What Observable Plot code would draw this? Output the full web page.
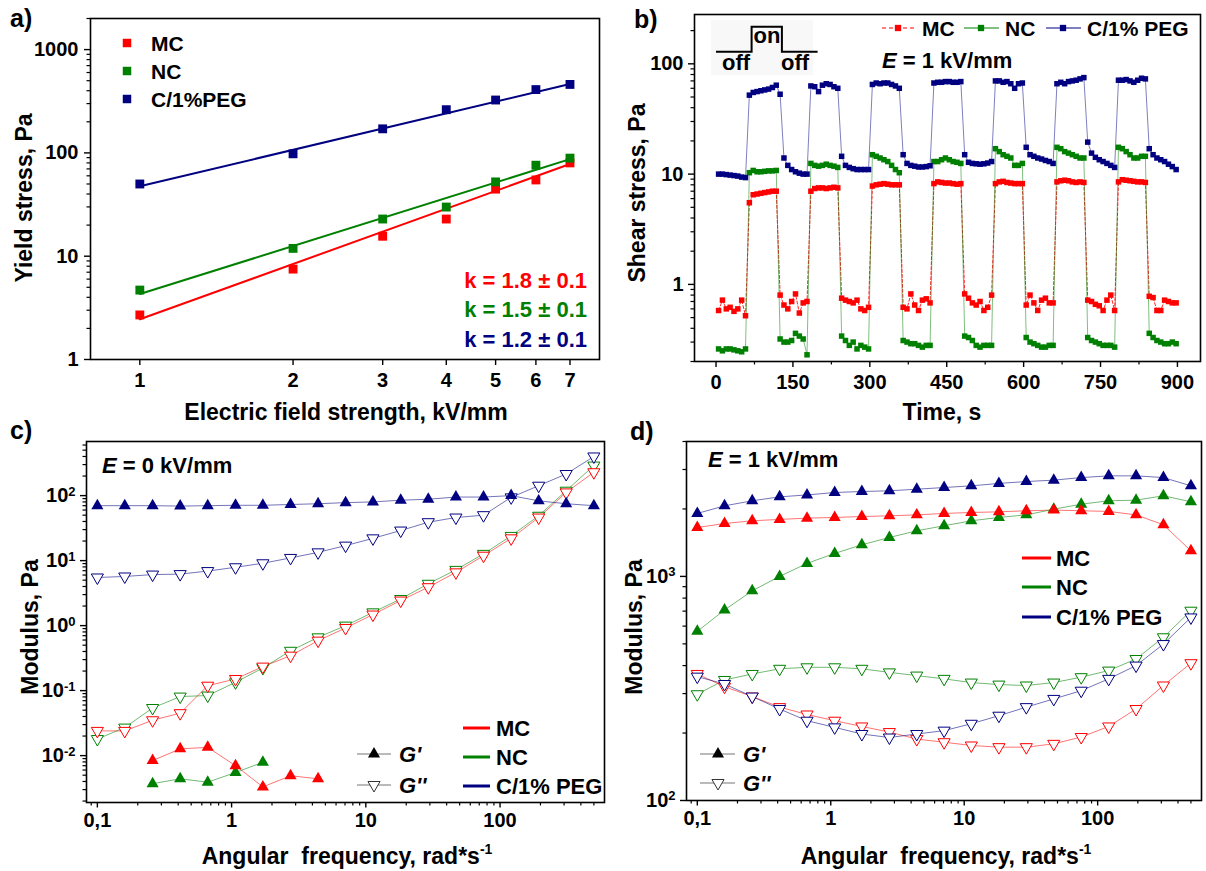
<!DOCTYPE html>
<html><head><meta charset="utf-8">
<script src="https://cdn.jsdelivr.net/npm/d3@7"></script>
<script src="https://cdn.jsdelivr.net/npm/@observablehq/plot@0.6"></script>
<style>
body{margin:0;background:#fff;}
#fig{position:relative;width:1206px;height:871px;background:#fff;overflow:hidden;}
</style></head><body><div id="fig"></div>
<script>
// ---------------- DATA ----------------
// a) yield stress vs field
const fieldKV = [1,2,3,4,5,6,7];
const yieldMC  = [2.7, 7.5, 15.6, 22.9, 44.6, 54.7, 80];
const yieldNC  = [4.7, 11.9, 22.9, 29.9, 52.4, 76, 89];
const yieldPEG = [50, 98, 171, 262, 325, 410, 460];
const fitKV  = [1, 7];
const fitMC  = [2.45, 78];
const fitNC  = [4.3, 87];
const fitPEG = [47.5, 465];
const slopeLabels = ["k = 1.8 \u00b1 0.1", "k = 1.5 \u00b1 0.1", "k = 1.2 \u00b1 0.1"];
const seriesA = ["MC", "NC", "C/1%PEG"];
const seriesB = ["MC", "NC", "C/1% PEG"];

// b) shear stress vs time (on/off cycles, 60 s each)
const timeS = d3.range(5, 900, 7.5);
const stressPEG = [
 10,10,9.9,9.8,9.7,9.6,9.4,9.3,
 52,55,56,57,58,59,61,64,
 53,14,12,11,10.5,10.2,10,10,
 63,62,56,64,66,65,62,60,
 14.5,12,11.5,11.2,11,11,11,11,
 65,67,66,67,67,65,63,60,
 15,12.5,12,11.8,11.6,11.6,11.7,11.9,
 67,68,68,69,69,68,68,69,
 15,12.8,12.5,12.4,12.3,12.4,12.6,13,
 70,70,68,69,66,60,66,67,
 17.5,15,14.5,14,13.7,13.3,13,12.5,
 66,68,66,69,70,71,73,75,
 19.5,15.5,14.2,13.5,13,12.5,12,11.5,
 71,71,72,70,68,71,74,73,
 17,15,14,13.5,13,12.3,11.7,11];
const stressNC = [
 0.26,0.25,0.26,0.26,0.255,0.25,0.245,0.26,
 10.3,10.8,10.5,10.5,10.6,10.7,10.7,10.8,
 0.32,0.3,0.3,0.31,0.36,0.34,0.32,0.23,
 12.5,12,11.8,12,12.3,12,11.8,11.5,
 0.34,0.31,0.28,0.3,0.26,0.28,0.27,0.26,
 15,14.5,14,13.5,13,12,11,10.3,
 0.31,0.3,0.29,0.29,0.28,0.27,0.28,0.28,
 13,13,13.5,14,13.5,13,12.8,12.5,
 0.34,0.33,0.31,0.28,0.27,0.28,0.28,0.28,
 17,16,15,14.5,14,12,12,12.5,
 0.33,0.3,0.29,0.28,0.27,0.27,0.28,0.28,
 17.5,17,16,15.5,15,14.5,14,14,
 0.33,0.31,0.3,0.29,0.28,0.28,0.28,0.27,
 17.5,17,16,15,14,14,14.5,14.5,
 0.36,0.33,0.31,0.3,0.29,0.29,0.3,0.29];
const stressMC = [
 0.58,0.72,0.6,0.62,0.57,0.6,0.72,0.52,
 5.5,6.5,6.6,6.7,6.8,6.9,7,7,
 0.8,0.65,0.6,0.7,0.82,0.55,0.68,0.7,
 7,7.4,7.5,7.5,7.4,7.5,7.6,7.5,
 0.75,0.72,0.7,0.68,0.72,0.6,0.58,0.62,
 7.8,8,8.1,8.2,8.1,8,8,8,
 0.62,0.6,0.82,0.65,0.58,0.72,0.74,0.68,
 8.2,8.5,8.4,8.3,8.3,8.2,8.1,8.2,
 0.82,0.75,0.68,0.65,0.7,0.58,0.62,0.8,
 8.2,8.5,8.6,8.4,8.3,8.2,8.2,8.2,
 0.65,0.8,0.68,0.58,0.72,0.75,0.68,0.68,
 8.5,8.7,8.8,8.7,8.5,8.4,8.5,8.4,
 0.72,0.7,0.66,0.64,0.58,0.72,0.8,0.58,
 8.5,8.9,8.8,8.7,8.6,8.5,8.5,8.4,
 0.78,0.76,0.58,0.58,0.72,0.7,0.68,0.68];
const timeTicks = [0,150,300,450,600,750,900];
const timeMinor = [75,225,375,525,675,825];

// c), d) frequency sweeps
const freq = [0.1,0.16,0.258,0.414,0.664,1.07,1.71,2.75,4.41,7.07,11.3,18.2,29.2,46.9,75.3,121,194,311,500];
const freqTicks = [0.1, 1, 10, 100];
const freqTickLabels = ["0,1", "1", "10", "100"];
// c) E = 0 kV/mm
const c_Gp_MC   = [null,null,0.0084,0.0127,0.0134,0.0070,0.0033,0.0049,0.0044,null,null,null,null,null,null,null,null,null,null];
const c_Gp_NC   = [null,null,0.0037,0.0044,0.0039,0.0055,0.0079,null,null,null,null,null,null,null,null,null,null,null,null];
const c_Gp_PEG  = [70,70,70,69,70,71,71,73,75,78,80,85,88,95,95,100,83,75,70];
const c_Gpp_MC  = [0.024,0.024,0.035,0.045,0.119,0.151,0.234,0.345,0.587,0.92,1.48,2.43,3.9,6.6,11.9,22,46,112,229];
const c_Gpp_NC  = [0.018,0.027,0.054,0.081,0.084,0.134,0.223,0.41,0.66,1.0,1.6,2.57,4.4,7.2,12.7,24,49,119,290];
const c_Gpp_PEG = [5.5,5.7,6.1,6.2,6.9,7.9,9.1,11,13.4,17,22,29,39,46,50,94,142,215,400];
// d) E = 1 kV/mm
const d_Gp_MC   = [1653,1722,1771,1796,1820,1833,1850,1864,1882,1910,1929,1942,1963,1977,1963,1950,1882,1700,1301];
const d_Gp_NC   = [569,708,863,1000,1143,1267,1384,1492,1598,1683,1771,1833,1882,1995,2100,2175,2189,2290,2153];
const d_Gp_PEG  = [1910,2065,2175,2265,2310,2368,2393,2410,2450,2493,2536,2600,2651,2689,2761,2810,2810,2761,2536];
const d_Gpp_MC  = [367,322,291,261,242,227,214,202,188,182,176,173,173,179,192,214,256,326,410];
const d_Gpp_NC  = [298,345,367,387,393,393,387,373,361,349,336,329,326,336,355,380,428,535,703];
const d_Gpp_PEG = [357,331,291,256,227,212,198,191,198,205,220,239,261,284,309,349,400,499,656];

// ---------------- STYLE ----------------
const FONT = '"Liberation Sans", Arial, Helvetica, sans-serif';
const RED = "#ff0000", GREEN = "#008000", NAVY = "#000080";
const COLORS = [RED, GREEN, NAVY];
const STYLE = `font-family:${FONT};font-size:20px;font-weight:bold;background:transparent;overflow:visible;`;

function logSplit(lo, hi) {
  const all = d3.scaleLog().domain([lo, hi]).ticks();
  const isMajor = v => Math.abs(Math.log10(v) - Math.round(Math.log10(v))) < 1e-9;
  return {major: all.filter(isMajor), minor: all.filter(v => !isMajor(v))};
}
const sup = v => "10^" + Math.round(Math.log10(v));

function yAxes(lo, hi, fmt, pad) {
  const t = logSplit(lo, hi);
  return [
    Plot.axisY({ticks: t.major, anchor: "left", tickSize: 6, tickPadding: pad, tickFormat: fmt, label: null, strokeWidth: 1.4}),
    Plot.axisY({ticks: t.minor, anchor: "left", tickSize: 3.5, tickFormat: () => "", label: null, strokeWidth: 1.2})
  ];
}
function freqAxes() {
  const t = logSplit(0.083, 600);
  return [
    Plot.axisX({ticks: freqTicks, anchor: "bottom", tickSize: 5.5, tickPadding: 5, tickFormat: d => freqTickLabels[freqTicks.indexOf(d)], label: null, strokeWidth: 1.4}),
    Plot.axisX({ticks: t.minor.filter(v => v <= 500), anchor: "bottom", tickSize: 3.5, tickFormat: () => "", label: null, strokeWidth: 1.2})
  ];
}

const triDown = {draw(ctx, size) {
  const y = -Math.sqrt(size / (3 * Math.sqrt(3)));
  ctx.moveTo(0, -2 * y);
  ctx.lineTo(-Math.sqrt(3) * y, y);
  ctx.lineTo(Math.sqrt(3) * y, y);
  ctx.closePath();
}};

function rows(xs, ys) { return xs.map((x, i) => ({x, y: ys[i]})).filter(d => d.y != null); }

const fig = document.getElementById("fig");
function place(svg, left, top) {
  svg.style.position = "absolute"; svg.style.left = left + "px"; svg.style.top = top + "px";
  svg.querySelectorAll("text").forEach(t => {
    const m = t.textContent.match(/^10\^(-?\d+)$/);
    if (m) t.innerHTML = `10<tspan dy="-0.5em" font-size="13px">${m[1]}</tspan>`;
  });
  fig.appendChild(svg);
}

// ---------------- PANEL A ----------------
{
  const ys = [yieldMC, yieldNC, yieldPEG], fits = [fitMC, fitNC, fitPEG];
  const marks = [];
  ys.forEach((v, k) => {
    marks.push(Plot.line(rows(fitKV, fits[k]), {x: "x", y: "y", stroke: COLORS[k], strokeWidth: 2}));
  });
  ys.forEach((v, k) => {
    marks.push(Plot.dot(rows(fieldKV, v), {x: "x", y: "y", fill: COLORS[k], symbol: "square", r: 5}));
  });
  const pa = Plot.plot({
    width: 603, height: 436, marginLeft: 90, marginRight: 4, marginTop: 18, marginBottom: 77,
    style: STYLE,
    x: {type: "log", domain: [0.8, 8]},
    y: {type: "log", domain: [1, 2000]},
    marks: [
      ...marks,
      Plot.frame({stroke: "#000", strokeWidth: 1.6}),
      Plot.axisX({ticks: fieldKV, anchor: "bottom", tickSize: 6, tickPadding: 7, tickFormat: d => String(d), label: null, strokeWidth: 1.4}),
      ...yAxes(1, 2000, d => String(d), 6)
    ]
  });
  place(pa, 0, 0);
}

// ---------------- PANEL B ----------------
{
  const ys = [stressMC, stressNC, stressPEG];
  const lines = ys.map((v, k) => Plot.line(rows(timeS, v), {x: "x", y: "y", stroke: COLORS[k],
    strokeWidth: 1, strokeOpacity: k === 0 ? 0.85 : 0.5, strokeDasharray: k === 0 ? "3,2" : null}));
  const dots = ys.map((v, k) => Plot.dot(rows(timeS, v), {x: "x", y: "y", fill: COLORS[k], symbol: "square", r: 3.1}));
  const pb = Plot.plot({
    width: 603, height: 436, marginLeft: 91, marginRight: 6, marginTop: 14, marginBottom: 75,
    style: STYLE,
    x: {domain: [-42, 945]},
    y: {type: "log", domain: [0.2, 280]},
    marks: [
      ...lines, dots[1], dots[0], dots[2],
      Plot.frame({stroke: "#000", strokeWidth: 1.6}),
      Plot.axisX({ticks: timeTicks, anchor: "bottom", tickSize: 6, tickPadding: 7, tickFormat: d => String(d), label: null, strokeWidth: 1.4}),
      Plot.axisX({ticks: timeMinor, anchor: "bottom", tickSize: 3.5, tickFormat: () => "", label: null, strokeWidth: 1.2}),
      ...yAxes(0.2, 280, d => String(d), 5)
    ]
  });
  place(pb, 603, 0);
}

// ---------------- PANELS C, D ----------------
function modulusPanel(gp, gpp, ydom, w, ml, mr, mb) {
  const lines = [], dots = [];
  [0, 1, 2].forEach(k => {
    lines.push(Plot.line(rows(freq, gpp[k]), {x: "x", y: "y", stroke: COLORS[k], strokeWidth: 1, strokeOpacity: 0.55}));
    lines.push(Plot.line(rows(freq, gp[k]), {x: "x", y: "y", stroke: COLORS[k], strokeWidth: 1, strokeOpacity: 0.55}));
  });
  [1, 0, 2].forEach(k => {
    dots.push(Plot.dot(rows(freq, gpp[k]), {x: "x", y: "y", stroke: COLORS[k], fill: "white", strokeWidth: 1, symbol: triDown, r: 4.5}));
  });
  [1, 0, 2].forEach(k => {
    dots.push(Plot.dot(rows(freq, gp[k]), {x: "x", y: "y", fill: COLORS[k], symbol: "triangle", r: 4.5}));
  });
  return Plot.plot({
    width: w, height: 435, marginLeft: ml, marginRight: mr, marginTop: 5, marginBottom: mb,
    style: STYLE,
    x: {type: "log", domain: [0.083, 600]},
    y: {type: "log", domain: ydom},
    marks: [
      ...lines, ...dots,
      Plot.frame({stroke: "#000", strokeWidth: 1.6}),
      ...freqAxes(),
      ...yAxes(ydom[0], ydom[1], sup, 5)
    ]
  });
}
place(modulusPanel([c_Gp_MC, c_Gp_NC, c_Gp_PEG], [c_Gpp_MC, c_Gpp_NC, c_Gpp_PEG], [0.0019, 680], 610, 86, 6, 69), 0, 436);
place(modulusPanel([d_Gp_MC, d_Gp_NC, d_Gp_PEG], [d_Gpp_MC, d_Gpp_NC, d_Gpp_PEG], [100, 4000], 596, 76, 5, 71), 610, 436);

// ---------------- OVERLAY: titles, legends, annotations ----------------
const ov = d3.select(fig).append("svg").attr("width", 1206).attr("height", 871)
  .style("position", "absolute").style("left", "0px").style("top", "0px")
  .style("font-family", FONT).style("font-weight", "bold");

function txt(x, y, parts, {size = 22, fill = "#000", anchor = "start", rotate = 0} = {}) {
  const t = ov.append("text").attr("x", x).attr("y", y).attr("font-size", size).attr("fill", fill).attr("text-anchor", anchor);
  if (rotate) t.attr("transform", `rotate(${rotate},${x},${y})`);
  (Array.isArray(parts) ? parts : [parts]).forEach(p => {
    const o = typeof p === "string" ? {t: p} : p;
    const s = t.append("tspan").text(o.t);
    if (o.i) s.attr("font-style", "italic");
    if (o.sup) s.attr("font-size", 14).attr("dy", -10);
  });
  return t;
}
function sym(type, x, y, size, fill, stroke) {
  ov.append("path").attr("d", d3.symbol().type(type).size(size)()).attr("transform", `translate(${x},${y})`)
    .attr("fill", fill).attr("stroke", stroke || "none").attr("stroke-width", 1);
}
function seg(x1, x2, y, stroke, w, dash) {
  const l = ov.append("line").attr("x1", x1).attr("x2", x2).attr("y1", y).attr("y2", y).attr("stroke", stroke).attr("stroke-width", w);
  if (dash) l.attr("stroke-dasharray", dash);
}

// panel letters
txt(10, 27, "a)", {size: 25});
txt(634, 28, "b)", {size: 25});
txt(10, 439, "c)", {size: 25});
txt(630, 440, "d)", {size: 25});

// axis titles
txt(32, 198, "Yield stress, Pa", {size: 23, anchor: "middle", rotate: -90});
txt(346, 420, "Electric field strength, kV/mm", {size: 23, anchor: "middle"});
txt(645, 193, "Shear stress, Pa", {size: 23, anchor: "middle", rotate: -90});
txt(942, 420, "Time, s", {size: 23, anchor: "middle"});
txt(38, 627, "Modulus, Pa", {size: 23, anchor: "middle", rotate: -90});
txt(642, 627, "Modulus, Pa", {size: 23, anchor: "middle", rotate: -90});
txt(347, 864, ["Angular\u00a0\u00a0frequency, rad*s", {t: "-1", sup: true}], {size: 23, anchor: "middle"});
txt(946, 864, ["Angular\u00a0\u00a0frequency, rad*s", {t: "-1", sup: true}], {size: 23, anchor: "middle"});

// panel a legend + slopes
const sq = d3.symbolSquare;
[43, 71, 99].forEach((y, k) => {
  sym(sq, 127, y, 72, COLORS[k]);
  txt(151, y + 7.5, seriesA[k], {size: 21});
});
[288, 317, 347].forEach((y, k) => txt(587, y, slopeLabels[k], {size: 22, fill: COLORS[k], anchor: "end"}));

// panel b legend
[[882, 915, 898, 922], [964, 999, 981, 1005], [1046, 1081, 1063, 1087]].forEach(([x1, x2, xs, xt], k) => {
  seg(x1, x2, 28, COLORS[k], 1.2, k === 0 ? "4,3" : null);
  sym(sq, xs, 28, 40, COLORS[k]);
  txt(xt, 36, seriesB[k], {size: 21});
});
txt(882, 68, [{t: "E", i: true}, " = 1 kV/mm"], {size: 22});
// on/off inset
ov.append("rect").attr("x", 711).attr("y", 20).attr("width", 102).attr("height", 55).attr("fill", "#f8f8f8");
ov.append("path").attr("d", "M716,51.7H751.6V26.7H781.9V51.7H817.6").attr("fill", "none").attr("stroke", "#000").attr("stroke-width", 2);
txt(767, 43, "on", {size: 22, anchor: "middle"});
txt(736, 70, "off", {size: 22, anchor: "middle"});
txt(795, 70, "off", {size: 22, anchor: "middle"});

// panel c annotations
txt(102, 473, [{t: "E", i: true}, " = 0 kV/mm"], {size: 22});
[728, 757, 786].forEach((y, k) => {
  seg(463, 490, y, COLORS[k], 3);
  txt(496, y + 8, seriesB[k], {size: 22});
});
const triSize = Math.PI * 4.5 * 4.5;
seg(357, 391, 754, "#777", 1.2); sym(d3.symbolTriangle, 374, 754, triSize, "#000");
txt(399, 762, [{t: "G'", i: true}], {size: 22});
seg(357, 391, 785, "#777", 1.2); sym(triDown, 374, 785, triSize, "#fff", "#333");
txt(399, 793, [{t: "G''", i: true}], {size: 22});

// panel d annotations
txt(708, 467, [{t: "E", i: true}, " = 1 kV/mm"], {size: 22});
[558, 587, 617].forEach((y, k) => {
  seg(1022, 1051, y, COLORS[k], 3);
  txt(1056, y + 8, seriesB[k], {size: 22});
});
seg(700, 735, 754, "#777", 1.2); sym(d3.symbolTriangle, 718, 754, triSize, "#000");
txt(743, 762, [{t: "G'", i: true}], {size: 22});
seg(700, 735, 783, "#777", 1.2); sym(triDown, 718, 783, triSize, "#fff", "#333");
txt(743, 791, [{t: "G''", i: true}], {size: 22});
</script></body></html>
